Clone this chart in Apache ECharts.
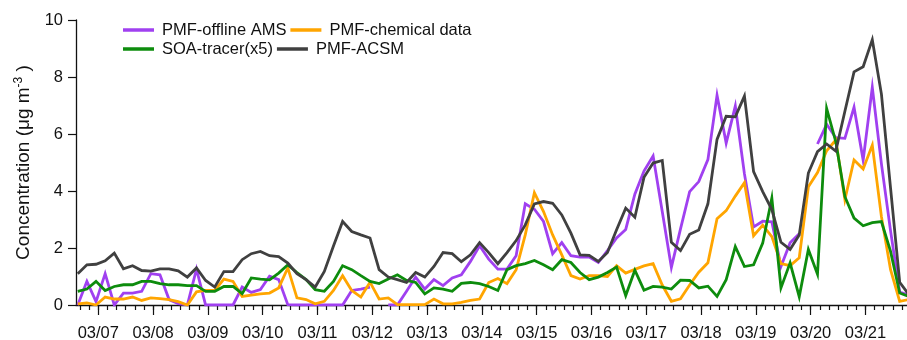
<!DOCTYPE html>
<html>
<head>
<meta charset="utf-8">
<script src="https://cdn.jsdelivr.net/npm/echarts@6/dist/echarts.min.js"></script>
<style>
html,body{margin:0;padding:0;background:#fff;}
#chart{width:907px;height:340px;}
</style>
</head>
<body>
<div id="chart"></div>
<script>
// Sampling: hours counted from 03/06 00:00; first sample 03/06 15:00, every 4 h
const firstSampleHour = 15;
const sampleStepHours = 4;
const axisStartHour = 14.23;
const axisEndHour = 378.2;

const dayLabels = ['03/07','03/08','03/09','03/10','03/11','03/12','03/13','03/14',
                   '03/15','03/16','03/17','03/18','03/19','03/20','03/21'];
const yTickLabels = [0, 2, 4, 6, 8, 10];

const seriesNames = ['PMF-offline AMS', 'PMF-chemical data', 'SOA-tracer(x5)', 'PMF-ACSM'];

const offlineAMS = [
  0.0, 0.83, 0.12, 1.10, 0.0, 0.42, 0.42, 0.48, 1.10, 1.06,
  0.19, 0.05, 0.0, 1.26, 0.0, 0.0, 0.0, 0.0, 0.63, 0.44,
  0.54, 1.01, 0.89, 0.01, 0.0, 0.0, 0.0, 0.0, 0.0, 0.0,
  0.51, 0.56, 0.63, null, 0.0, 0.0, 0.48, 0.98, 0.56, 0.89,
  0.68, 0.95, 1.06, 1.53, 2.08, 1.61, 1.26, 1.26, 1.73, 3.55,
  3.36, 2.93, 1.80, 2.19, 1.73, 1.68, 1.68, 1.49, 1.91, 2.35,
  2.65, 3.89, 4.70, 5.23, 3.28, 1.32, 2.67, 3.98, 4.33, 5.10,
  7.36, 5.68, 6.98, 4.60, 2.74, 2.94, 2.92, 1.35, 2.18, 2.50,
  null, 5.65, 6.34, 5.87, 5.85, 6.94, 5.08, 7.64, 4.95, 2.60,
  0.45, 0.35
];
const chemicalData = [
  0.04, 0.07, 0.0, 0.28, 0.21, 0.21, 0.28, 0.16, 0.25, 0.22,
  0.19, 0.12, 0.0, 0.46, 0.51, 0.51, 0.91, 0.83, 0.30, 0.35,
  0.39, 0.42, 0.60, 1.30, 0.25, 0.19, 0.04, 0.13, 0.51, 1.03,
  0.51, 0.28, 0.80, 0.21, 0.25, 0.01, 0.01, 0.01, 0.01, 0.21,
  0.04, 0.04, 0.09, 0.16, 0.21, 0.79, 0.93, 0.75, 1.24, 2.46,
  3.94, 3.28, 2.46, 1.76, 1.03, 0.91, 1.03, 1.03, 1.00, 1.38,
  1.12, 1.25, 1.37, 1.45, 0.70, 0.13, 0.22, 0.70, 1.15, 1.48,
  3.03, 3.31, 3.82, 4.29, 2.43, 2.80, 2.40, 1.45, 1.38, 1.66,
  4.15, 4.65, 5.41, 5.79, 3.70, 5.09, 4.77, 5.61, 3.10, 1.24,
  0.13, 0.19
];
const soaTracer = [
  0.48, 0.56, 0.83, 0.51, 0.65, 0.71, 0.71, 0.83, 0.83, 0.75,
  0.71, 0.71, 0.68, 0.68, 0.48, 0.48, 0.65, 0.65, 0.40, 0.95,
  0.91, 0.88, 1.12, 1.41, 1.14, 0.89, 0.54, 0.48, 0.83, 1.38,
  1.24, 1.03, 0.83, 0.75, 0.91, 1.06, 0.86, 0.79, 0.39, 0.60,
  0.56, 0.48, 0.76, 0.79, 0.75, 0.65, 0.51, 1.24, 1.38, 1.45,
  1.56, 1.41, 1.24, 1.59, 1.49, 1.14, 0.89, 0.98, 1.14, 1.33,
  0.33, 1.22, 0.52, 0.65, 0.63, 0.56, 0.87, 0.86, 0.60, 0.66,
  0.30, 0.89, 2.05, 1.35, 1.41, 2.17, 3.75, 0.60, 1.48, 0.29,
  1.95, 1.08, 6.90, 5.73, 3.80, 3.05, 2.78, 2.89, 2.93, 1.88,
  0.42, 0.30
];
const acsm = [
  1.10, 1.41, 1.43, 1.55, 1.82, 1.27, 1.38, 1.21, 1.19, 1.27,
  1.27, 1.20, 0.98, 1.30, 0.86, 0.63, 1.17, 1.17, 1.59, 1.80,
  1.88, 1.73, 1.70, 1.47, 1.10, 0.89, 0.63, 1.18, 2.07, 2.93,
  2.58, 2.46, 2.35, 1.24, 0.98, 0.89, 0.79, 1.14, 0.98, 1.35,
  1.84, 1.80, 1.52, 1.76, 2.19, 1.84, 1.45, 1.84, 2.26, 2.81,
  3.55, 3.63, 3.57, 3.16, 2.52, 1.76, 1.74, 1.53, 1.84, 2.64,
  3.40, 3.08, 4.48, 4.98, 5.07, 2.20, 1.91, 2.48, 2.63, 3.55,
  5.81, 6.62, 6.60, 7.33, 4.68, 3.98, 3.35, 2.20, 1.95, 2.46,
  4.63, 5.38, 5.65, 5.40, 6.80, 8.18, 8.36, 9.31, 7.40, 4.10,
  0.80, 0.36
];

const seriesColors = ['#a040f0', '#ffa500', '#0d8c0d', '#404040'];
const FONT = '"Liberation Sans", Arial, Helvetica, sans-serif';

function toPairs(values) {
  return values.map((v, i) => [firstSampleHour + i * sampleStepHours, v]);
}
const dayHours = dayLabels.map((_, i) => 24 * (i + 1));
const minorTickHours = [];
for (let h = 16; h <= axisEndHour; h += 4) minorTickHours.push(h);

const chart = echarts.init(document.getElementById('chart'), null, {renderer: 'canvas'});

const allValues = [offlineAMS, chemicalData, soaTracer, acsm];
const series = seriesNames.map((name, i) => ({
  name: name,
  type: 'line',
  data: toPairs(allValues[i]),
  showSymbol: false,
  symbol: 'none',
  connectNulls: false,
  clip: true,
  lineStyle: {color: seriesColors[i], width: 2.8, join: 'miter'},
  itemStyle: {color: seriesColors[i]},
  z: 2 + i
}));

const legendCommon = {
  left: 123,
  padding: 0,
  orient: 'horizontal',
  icon: 'rect',
  itemWidth: 31,
  itemHeight: 3.5,
  itemGap: 4,
  selectedMode: false,
  textStyle: {fontFamily: FONT, fontSize: 16.5, color: '#111', padding: [0, 0, 0, 3]}
};

chart.setOption({
  animation: false,
  backgroundColor: '#fff',
  textStyle: {fontFamily: FONT},
  grid: {left: 76, right: 0, top: 20, bottom: 35, containLabel: false, outerBoundsMode: 'none'},
  legend: [
    Object.assign({}, legendCommon, {top: 21.5, data: [seriesNames[0], seriesNames[1]]}),
    Object.assign({}, legendCommon, {top: 40.5, data: [seriesNames[2], seriesNames[3]]})
  ],
  xAxis: [{
    type: 'value',
    min: axisStartHour,
    max: axisEndHour,
    position: 'bottom',
    axisLine: {show: true, onZero: false, lineStyle: {color: '#111', width: 1.3}},
    axisTick: {show: true, inside: false, length: 5, customValues: minorTickHours,
               lineStyle: {color: '#111', width: 1.2}},
    axisLabel: {show: true, customValues: dayHours, margin: 20,
                fontFamily: FONT, fontSize: 16.5, color: '#111',
                formatter: function (v) { return dayLabels[Math.round(v / 24) - 1] || ''; }},
    splitLine: {show: false}
  }, {
    type: 'value',
    min: axisStartHour,
    max: axisEndHour,
    position: 'bottom',
    offset: 0,
    axisLine: {show: false},
    axisTick: {show: true, inside: false, length: 10, customValues: dayHours,
               lineStyle: {color: '#111', width: 1.2}},
    axisLabel: {show: false, customValues: dayHours},
    splitLine: {show: false}
  }],
  yAxis: {
    type: 'value',
    min: yTickLabels[0],
    max: yTickLabels[yTickLabels.length - 1],
    interval: 2,
    axisLine: {show: true, lineStyle: {color: '#111', width: 1.3}},
    axisTick: {show: true, inside: false, length: 8, lineStyle: {color: '#111', width: 1.2}},
    axisLabel: {fontFamily: FONT, fontSize: 16.5, color: '#111', margin: 13},
    splitLine: {show: false},
    name: '{a|Concentration (μg m}{s|-3}{a| )}',
    nameLocation: 'middle',
    nameRotate: 90,
    nameGap: 38,
    nameTextStyle: {
      fontFamily: FONT, color: '#111',
      rich: {
        a: {fontFamily: FONT, fontSize: 19, color: '#111'},
        s: {fontFamily: FONT, fontSize: 12, color: '#111', padding: [0, 0, 12, 0]}
      }
    }
  },
  series: series
});
</script>
</body>
</html>
